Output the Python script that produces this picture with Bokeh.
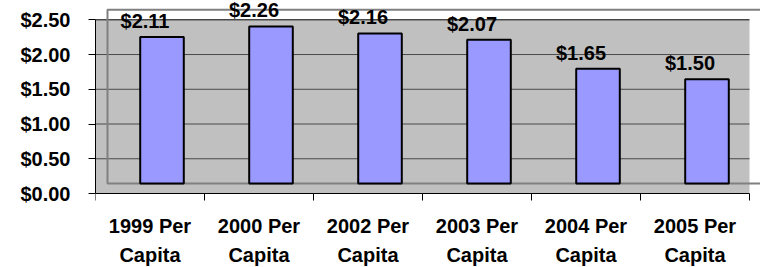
import math
from bokeh.plotting import figure
from bokeh.models import Range1d, FixedTicker, ColumnDataSource, Grid
from bokeh.embed import file_html
from bokeh.resources import INLINE
from bokeh.core.properties import value

# ---- data ----
categories = ["1999 Per\nCapita", "2000 Per\nCapita", "2002 Per\nCapita",
              "2003 Per\nCapita", "2004 Per\nCapita", "2005 Per\nCapita"]
values = [2.11, 2.26, 2.16, 2.07, 1.65, 1.50]
value_labels = ["$2.11", "$2.26", "$2.16", "$2.07", "$1.65", "$1.50"]
y_ticks = [0.0, 0.5, 1.0, 1.5, 2.0, 2.5]
y_tick_labels = ["$0.00", "$0.50", "$1.00", "$1.50", "$2.00", "$2.50"]

# ---- geometry (style) ----
W, H = 760, 267
LEFT = 95
PX_X = 109.0          # pixels per category
PX_Y = 69.48          # pixels per dollar
FRAME_W = W - LEFT
ABOVE = 193           # pixels from baseline to top of frame
BELOW = H - ABOVE     # pixels from baseline to bottom of frame
DEPTH_X, DEPTH_Y = 12, 10   # 3-D back wall offset in pixels

n = len(categories)
ymax = y_ticks[-1]
x1 = FRAME_W / PX_X
y1 = ABOVE / PX_Y
y0 = -BELOW / PX_Y
dx = DEPTH_X / PX_X
dy = DEPTH_Y / PX_Y

FONT = value("Liberation Sans")

p = figure(width=W, height=H, output_backend="svg", toolbar_location=None,
           x_range=Range1d(0, x1), y_range=Range1d(y0, y1),
           x_axis_location=None, y_axis_location="left",
           min_border_left=LEFT, min_border_right=0, min_border_top=0, min_border_bottom=0)
p.extra_x_ranges = {"wall": Range1d(-dx, x1 - dx)}
p.extra_y_ranges = {"wall": Range1d(y0 - dy, y1 - dy)}
p.outline_line_color = None
p.background_fill_color = "white"
p.border_fill_color = "white"
for r in p.center:
    if isinstance(r, Grid):
        r.visible = False

# front grey plot area
p.quad(left=[0], right=[n], bottom=[0], top=[ymax], fill_color="#C0C0C0", line_color=None)

# gridlines
grid_src = ColumnDataSource(dict(y=y_ticks[1:-1], x0=[0] * (len(y_ticks) - 2), x1=[n] * (len(y_ticks) - 2)))
p.segment(x0="x0", y0="y", x1="x1", y1="y", source=grid_src, line_color="#4a4a4a", line_width=1)
p.segment(x0=[0], y0=[ymax], x1=[n], y1=[ymax], line_color="black", line_width=1)

# back wall outline
p.quad(left=[0], right=[n + 1], bottom=[0], top=[ymax], fill_color=None,
       line_color="#808080", line_width=2, x_range_name="wall", y_range_name="wall")

# bars
centers = [i + 0.5 for i in range(n)]
bar_src = ColumnDataSource(dict(x=centers, top=values, label=value_labels, cat=categories))
p.vbar(x="x", top="top", bottom=0, width=0.40, source=bar_src,
       fill_color="#9999FF", line_color="black", line_width=2,
       x_range_name="wall", y_range_name="wall")

# value labels
p.text(x="x", y="top", text="label", source=bar_src, y_range_name="wall",
       x_offset=-5, y_offset=-16, text_align="center", text_baseline="alphabetic",
       text_font=FONT, text_font_style="bold", text_font_size="20px", text_color="black")

# category axis
p.segment(x0=[0], y0=[0], x1=[n], y1=[0], line_color="black", line_width=1)
p.ray(x=list(range(n + 1)), y=[0] * (n + 1), length=7, length_units="screen",
      angle=-math.pi / 2, line_color="black", line_width=1)
p.text(x="x", y=0, text="cat", source=bar_src,
       y_offset=21, text_align="center", text_baseline="top", text_line_height=1.35,
       text_font=FONT, text_font_style="bold", text_font_size="20px", text_color="black")

# value axis
ax = p.yaxis[0]
ax.ticker = FixedTicker(ticks=y_ticks)
ax.bounds = (0, ymax)
ax.major_label_overrides = {t: s for t, s in zip(y_ticks, y_tick_labels)}
ax.major_tick_out = 7
ax.major_tick_in = 0
ax.minor_tick_out = 0
ax.minor_tick_in = 0
ax.axis_line_color = "black"
ax.major_tick_line_color = "black"
ax.major_label_standoff = 18
ax.major_label_text_font = "Liberation Sans"
ax.major_label_text_font_style = "bold"
ax.major_label_text_font_size = "20px"
ax.major_label_text_color = "black"

open("out.html", "w").write(file_html(p, INLINE))
